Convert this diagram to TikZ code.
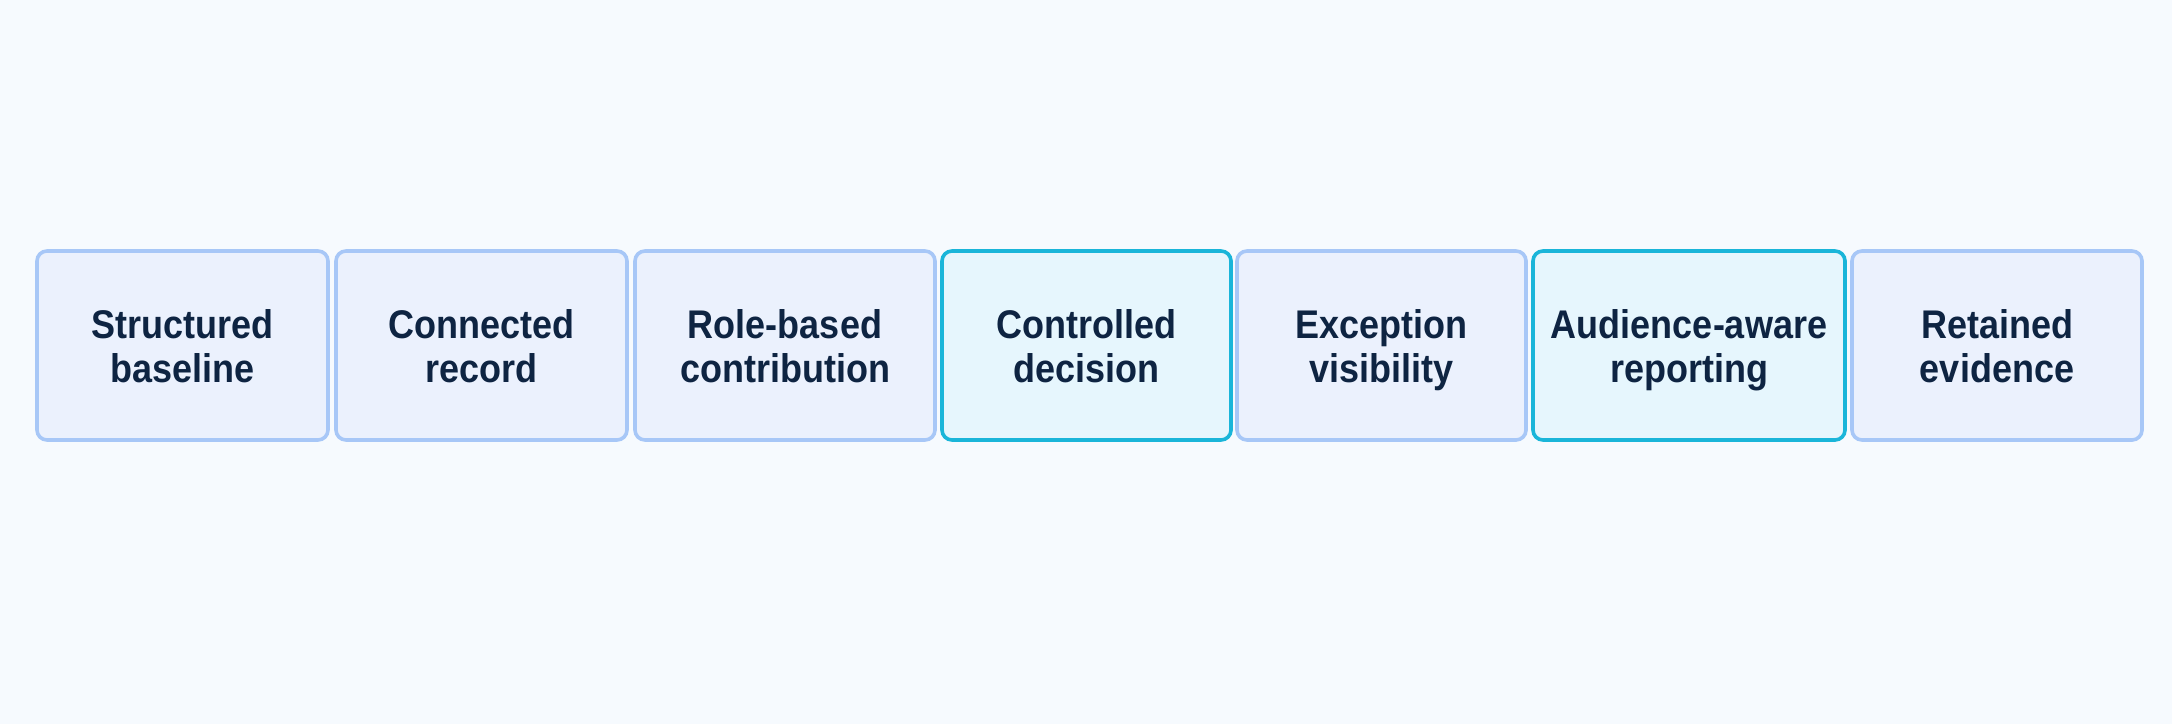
\documentclass[tikz,border=0pt]{standalone}
\usepackage{fontspec}
\setmainfont[FakeStretch=0.9]{Liberation Sans}
\definecolor{bgc}{HTML}{F6FAFE}
\definecolor{boxfill}{HTML}{EBF1FD}
\definecolor{boxline}{HTML}{A7C7F7}
\definecolor{hlfill}{HTML}{E6F6FD}
\definecolor{hlline}{HTML}{1AB5D9}
\definecolor{txt}{HTML}{0E2442}
\tikzset{
  stage/.style={rectangle, rounded corners=5pt, line width=1.8pt, draw=boxline, fill=boxfill,
    minimum height=94.5pt, inner sep=0pt, align=center, text=txt,
    font=\fontsize{20pt}{22pt}\selectfont\bfseries},
  hl/.style={stage, draw=hlline, fill=hlfill}
}
\begin{document}
\begin{tikzpicture}[x=0.5pt,y=-0.5pt]
\fill[bgc] (0,0) rectangle (2172,724);
\useasboundingbox (0,0) rectangle (2172,724);
\node[stage, minimum width=145.5pt] (n1) at (182.5,345.5) {Structured\\\smash{baseline}};
\node[stage, minimum width=145.5pt] (n2) at (481.5,345.5) {Connected\\\smash{record}};
\node[stage, minimum width=150pt] (n3) at (785,345.5) {Role-based\\\smash{contribution}};
\node[hl, minimum width=144.5pt] (n4) at (1086.5,345.5) {Controlled\\\smash{decision}};
\node[stage, minimum width=144.5pt] (n5) at (1381.5,345.5) {Exception\\\smash{visibility}};
\node[hl, minimum width=156pt] (n6) at (1689,345.5) {Audience-aware\\\smash{reporting}};
\node[stage, minimum width=145pt] (n7) at (1997,345.5) {Retained\\\smash{evidence}};
\end{tikzpicture}
\end{document}
